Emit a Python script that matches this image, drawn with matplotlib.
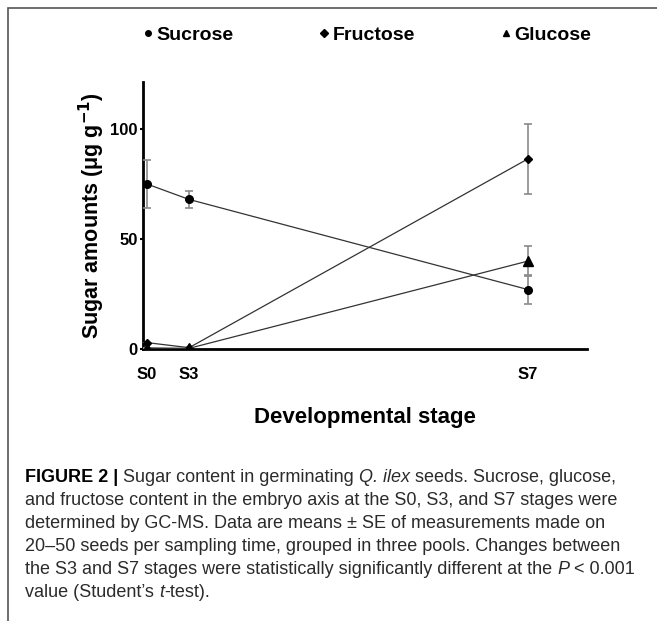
import matplotlib.pyplot as plt
from matplotlib.lines import Line2D
from matplotlib.patches import Rectangle

# stage positions on the x axis (not evenly spaced in the figure)
stages = ['S0', 'S3', 'S7']
stage_x = [0, 3, 27.2]

sucrose = [75, 68, 27]
sucrose_se = [11, 4, 6.5]
fructose = [2.9, 0.6, 86.5]
fructose_se = [0, 0, 16]
glucose = [0.5, 0.3, 40]
glucose_se = [0, 0, 7]

legend_labels = ['Sucrose', 'Fructose', 'Glucose']

# caption lines as (text, style) pieces
caption = [
    [('FIGURE 2 | ', 'bold'), ('Sugar content in germinating ', 'normal'),
     ('Q. ilex', 'italic'), (' seeds. Sucrose, glucose,', 'normal')],
    [('and fructose content in the embryo axis at the S0, S3, and S7 stages were', 'normal')],
    [('determined by GC-MS. Data are means \u00b1 SE of measurements made on', 'normal')],
    [('20\u201350 seeds per sampling time, grouped in three pools. Changes between', 'normal')],
    [('the S3 and S7 stages were statistically significantly different at the ', 'normal'),
     ('P', 'italic'), (' < 0.001', 'normal')],
    [('value (Student\u2019s ', 'normal'), ('t', 'italic'), ('-test).', 'normal')],
]

font = 'Liberation Sans'
W, H = 657, 621

fig = plt.figure(figsize=(W / 100, H / 100), dpi=100)
ax = fig.add_axes([143 / W, 1 - 349 / H, (587 - 143) / W, (349 - 82) / H])

series = [(sucrose, sucrose_se, 'o', 5.5),
          (fructose, fructose_se, 'D', 4.5),
          (glucose, glucose_se, '^', 6.5)]
for vals, se, m, ms in series:
    ax.errorbar(stage_x, vals, yerr=se, fmt='-', color='#333333', lw=0.9,
                marker=m, ms=ms, mfc='black', mec='black',
                ecolor='#8a8a8a', elinewidth=1.2, capsize=3, capthick=1.2, zorder=3)

ax.set_xlim(-0.29, 31.4)
ax.set_ylim(0, 121.4)
ax.spines['top'].set_visible(False)
ax.spines['right'].set_visible(False)
ax.spines['left'].set_linewidth(2)
ax.spines['bottom'].set_linewidth(2)
ax.set_yticks([0, 50, 100])
ax.set_xticks(stage_x)
ax.set_xticklabels(stages)
ax.tick_params(axis='y', length=2, width=1.5, pad=2)
ax.tick_params(axis='x', length=0, pad=13)
for lab in ax.get_xticklabels() + ax.get_yticklabels():
    lab.set_family(font)
    lab.set_fontweight('bold')
    lab.set_fontsize(12)

ax.set_ylabel('Sugar amounts (\u03bcg g$^{\\mathbf{-1}}$)', family=font,
              fontweight='bold', fontsize=15.5, labelpad=2)
ax.set_xlabel('Developmental stage', family=font, fontweight='bold',
              fontsize=16, labelpad=18)

handles = [Line2D([], [], ls='none', marker='o', ms=4, color='black'),
           Line2D([], [], ls='none', marker='D', ms=4, color='black'),
           Line2D([], [], ls='none', marker='^', ms=5, color='black')]
fig.legend(handles, legend_labels, ncol=3, frameon=False,
           loc='center', bbox_to_anchor=(367 / W, 1 - 35 / H), handlelength=0.5,
           handletextpad=0.2, columnspacing=4.4,
           prop={'family': font, 'weight': 'bold', 'size': 14})

# caption, drawn piece by piece so italics sit on the same baseline
renderer = fig.canvas.get_renderer()
cap_size = 13


def piece_width(s, weight, style):
    a = fig.text(0, 0, 'x' + s + 'x', fontsize=cap_size, family=font,
                 fontweight=weight, fontstyle=style)
    b = fig.text(0, 0, 'xx', fontsize=cap_size, family=font,
                 fontweight=weight, fontstyle=style)
    w = a.get_window_extent(renderer).width - b.get_window_extent(renderer).width
    a.remove()
    b.remove()
    return w


for i, line in enumerate(caption):
    x = 25
    y = 482 + 23 * i
    for s, kind in line:
        weight = 'bold' if kind == 'bold' else 'normal'
        style = 'italic' if kind == 'italic' else 'normal'
        color = 'black' if kind == 'bold' else '#2b2b2b'
        fig.text(x / W, 1 - y / H, s, fontsize=cap_size, family=font,
                 fontweight=weight, fontstyle=style, color=color, va='baseline')
        x += piece_width(s, weight, style)

fig.patches.append(Rectangle((8 / W, -0.1), 1.0, 1 - 8 / H + 0.1, transform=fig.transFigure,
                             fill=False, ec='#555555', lw=1.2))

fig.savefig('out.png', dpi=100)
